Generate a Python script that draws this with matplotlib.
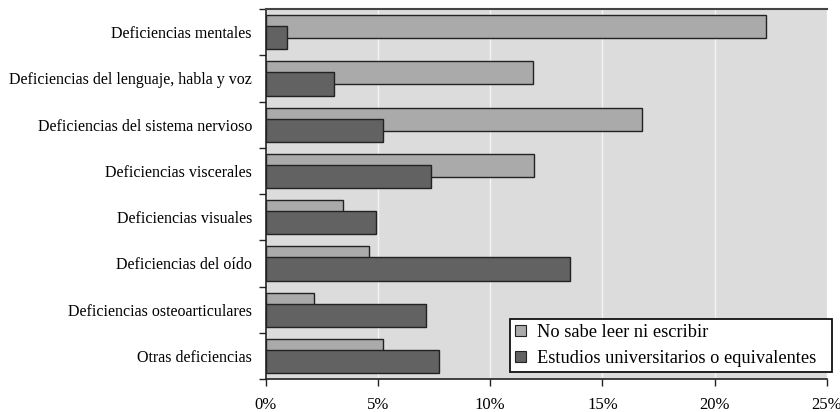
import matplotlib
matplotlib.use("Agg")
import matplotlib.pyplot as plt
from matplotlib.patches import Patch
from matplotlib.ticker import FixedLocator, FuncFormatter
import numpy as np

categories = [
    "Deficiencias mentales",
    "Deficiencias del lenguaje, habla y voz",
    "Deficiencias del sistema nervioso",
    "Deficiencias viscerales",
    "Deficiencias visuales",
    "Deficiencias del oído",
    "Deficiencias osteoarticulares",
    "Otras deficiencias",
]
no_sabe = [22.3, 11.9, 16.75, 11.95, 3.45, 4.6, 2.15, 5.2]
universitarios = [0.93, 3.06, 5.2, 7.37, 4.9, 13.55, 7.13, 7.72]
series_labels = ["No sabe leer ni escribir", "Estudios universitarios o equivalentes"]
xticks = [0, 5, 10, 15, 20, 25]

plt.rcParams['font.family'] = ['Liberation Serif', 'DejaVu Serif']

light = "#aaaaaa"
dark = "#626262"
edge = "#222222"

fig = plt.figure(figsize=(8.4, 4.12), dpi=100)
ax = fig.add_axes([0.3164, 0.080, 0.9845 - 0.3164, 0.978 - 0.080])
ax.set_facecolor("#dcdcdd")

y = np.arange(len(categories))
ax.barh(y - 0.12, no_sabe, height=0.5, color=light, edgecolor=edge, linewidth=1.0, zorder=3)
ax.barh(y + 0.12, universitarios, height=0.5, color=dark, edgecolor=edge, linewidth=1.0, zorder=4)

ax.set_xlim(0, 25)
ax.set_ylim(len(categories) - 0.5, -0.5)
ax.set_xticks(xticks)
ax.xaxis.set_major_formatter(FuncFormatter(lambda v, p: f"{int(v)}%"))
ax.set_yticks(y)
ax.set_yticklabels(categories)
ax.yaxis.set_minor_locator(FixedLocator(np.arange(-0.5, len(categories), 1.0)))
ax.tick_params(axis='y', which='major', length=0, pad=10, labelsize=11.5)
ax.tick_params(axis='y', which='minor', length=5, width=1.0, direction='out', color='#222222')
ax.tick_params(axis='x', which='major', length=5, width=1.0, direction='out', pad=8, labelsize=12, color='#222222')

ax.grid(axis='x', color='#f4f4f4', linewidth=1.0, zorder=1)
ax.set_axisbelow(True)
for s in ['left', 'bottom']:
    ax.spines[s].set_color('#222222')
    ax.spines[s].set_linewidth(1.2)
ax.spines['top'].set_color('#444444')
ax.spines['top'].set_linewidth(1.5)
ax.spines['right'].set_visible(False)

handles = [Patch(facecolor=light, edgecolor=edge, linewidth=0.8),
           Patch(facecolor=dark, edgecolor=edge, linewidth=0.8)]
leg = ax.legend(handles, series_labels, loc='lower left',
                bbox_to_anchor=(0.4351, 0.019, 0.5732, 0.15), mode='expand',
                fontsize=13.2, fancybox=False, framealpha=1, edgecolor='#111111',
                borderaxespad=0, handlelength=0.55, handleheight=0.55, handletextpad=0.65,
                labelspacing=0.45, borderpad=0.3)
leg.get_frame().set_linewidth(1.3)
leg.set_zorder(10)

fig.savefig("out.png", dpi=100, facecolor='white')
